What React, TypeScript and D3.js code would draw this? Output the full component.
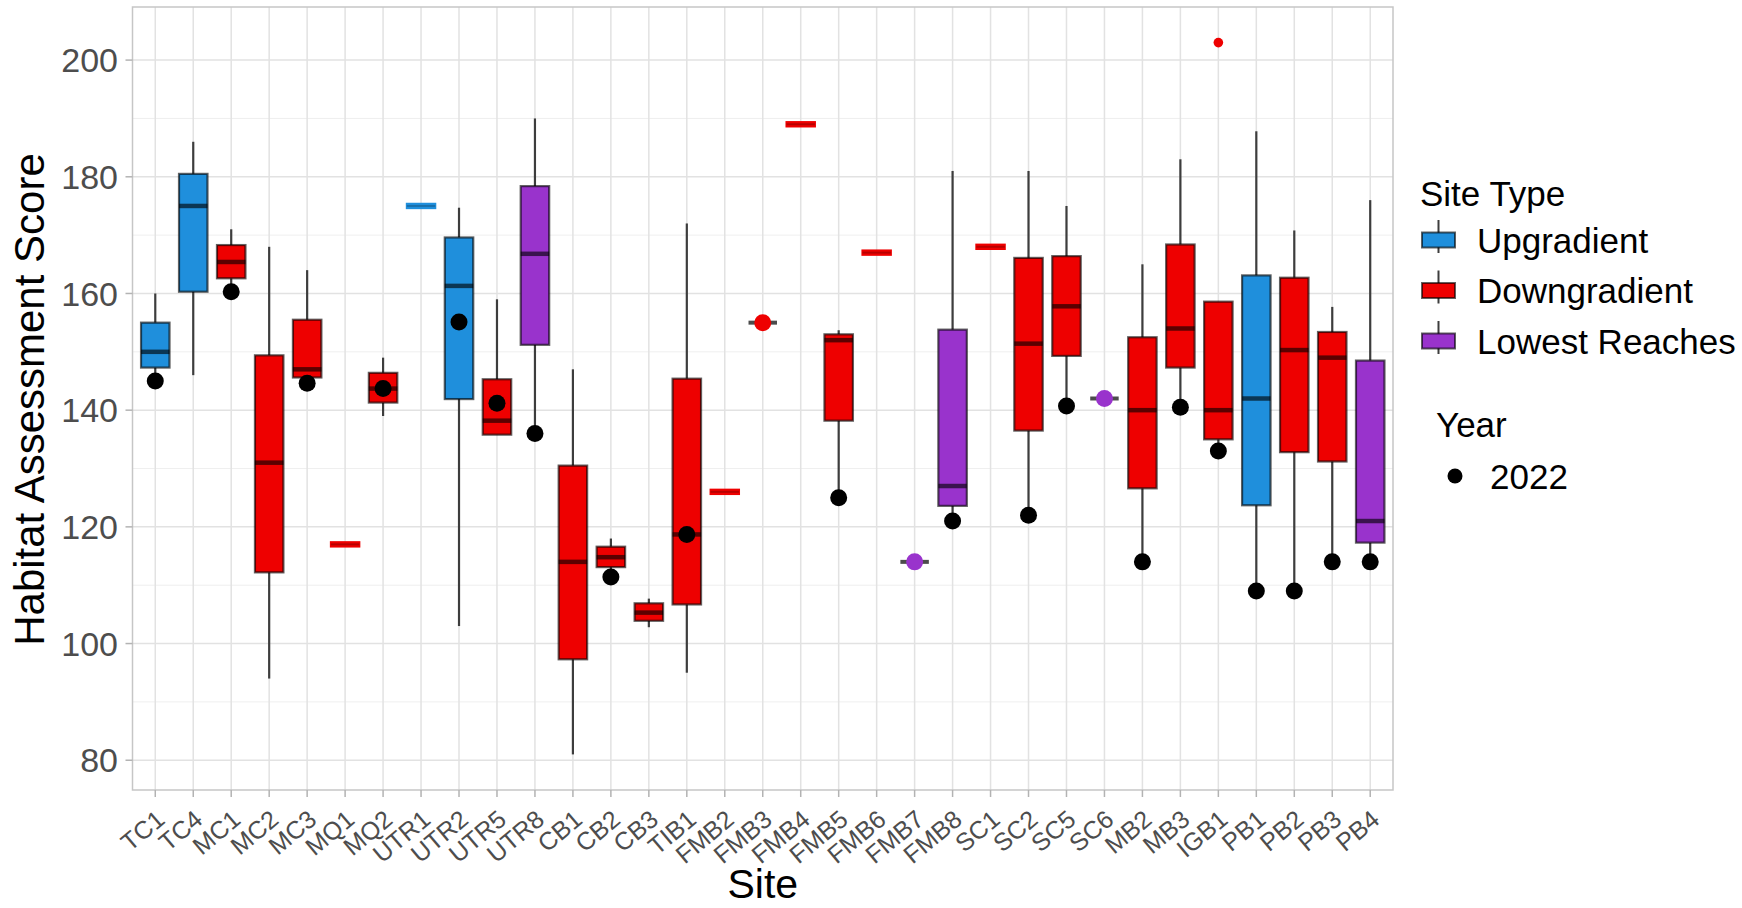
import React from "react";
import * as d3 from "d3";

// ---------- data ----------
const sites = ["TC1","TC4","MC1","MC2","MC3","MQ1","MQ2","UTR1","UTR2","UTR5","UTR8","CB1","CB2","CB3","TIB1","FMB2","FMB3","FMB4","FMB5","FMB6","FMB7","FMB8","SC1","SC2","SC5","SC6","MB2","MB3","IGB1","PB1","PB2","PB3","PB4"];
const siteType = ["Upgradient","Upgradient","Downgradient","Downgradient","Downgradient","Downgradient","Downgradient","Upgradient","Upgradient","Downgradient","Lowest Reaches","Downgradient","Downgradient","Downgradient","Downgradient","Downgradient","Downgradient","Downgradient","Downgradient","Downgradient","Lowest Reaches","Lowest Reaches","Downgradient","Downgradient","Downgradient","Lowest Reaches","Downgradient","Downgradient","Downgradient","Upgradient","Downgradient","Downgradient","Lowest Reaches"];
const whiskerLow = [145,146,160.5,94,145,117,139,175,103,135.8,136,81,111.5,102.8,95,126,155,189,125,167,114,121,168,122,141,142,114,140.5,133,109,109,114,114];
const q1 = [147.3,160.3,162.6,112.2,145.6,117,141.3,175,141.9,135.8,151.2,97.3,113.1,103.9,106.7,126,155,189,138.2,167,114,123.6,168,136.5,149.3,142,126.6,147.3,135,123.7,132.8,131.2,117.3];
const median = [150,175,165.4,131,147,117,143.7,175,161.3,138.2,166.8,114,114.8,105.3,118.7,126,155,189,152,167,114,127,168,151.4,157.8,142,140,154,140,142,150.3,149,121];
const q3 = [155,180.5,168.3,149.4,155.5,117,146.4,175,169.6,145.3,178.4,130.5,116.6,106.9,145.4,126,155,189,153,167,114,153.8,168,166.1,166.4,142,152.5,168.4,158.6,163.1,162.7,153.4,148.5];
const whiskerHigh = [160,186,171,168,164,117,149,175,174.7,159,190,147,118,107.7,172,126,155,189,153.7,167,114,181,168,181,175,142,165,183,158.6,187.8,170.8,157.7,176];
const year2022 = [145,null,160.3,null,144.6,null,143.7,null,155.1,141.2,136,null,111.4,null,118.7,null,null,null,125,null,null,121,null,122,140.7,null,114,140.5,133,109,109,114,114];
const singleSiteDots = [null,null,null,null,null,null,null,null,null,null,null,null,null,null,null,null,155,null,null,null,114,null,null,null,null,142,null,null,null,null,null,null,null];
const outlierSites = ["IGB1"];
const outlierValues = [203];

const typeNames = ["Upgradient","Downgradient","Lowest Reaches"];
const typeColors = ["#1f8fdc","#ee0000","#9933cc"];
const yTicks = [80,100,120,140,160,180,200];
const yMinor = [90,110,130,150,170,190];
const yDomain = [74.9, 209.1];

const FONT = "'Liberation Sans', Arial, Helvetica, sans-serif";

export default function App() {
  const W = 1742, H = 908;
  const left = 132.5, right = 1393, top = 7, bottom = 790;
  const x = d3.scalePoint<string>().domain(sites).range([left, right]).padding(0.6);
  const y = d3.scaleLinear().domain(yDomain).range([bottom, top]);
  const color = d3.scaleOrdinal<string, string>().domain(typeNames).range(typeColors);
  const step = x.step();
  const bw = step * 0.75;
  const outline = "rgba(0,0,0,0.62)";
  const whiskerCol = "#3d3d3d";

  return (
    <div style={{ position: "fixed", left: 0, top: 0 }}>
      <svg width={W} height={H} style={{ display: "block", background: "#fff" }} fontFamily={FONT}>
        {/* grid */}
        {yMinor.map((v) => (
          <line key={"mi" + v} x1={left} x2={right} y1={y(v)} y2={y(v)} stroke="#efefef" strokeWidth={1} />
        ))}
        {yTicks.map((v) => (
          <line key={"ma" + v} x1={left} x2={right} y1={y(v)} y2={y(v)} stroke="#e2e2e2" strokeWidth={1.5} />
        ))}
        {sites.map((s) => (
          <line key={"vx" + s} x1={x(s)} x2={x(s)} y1={top} y2={bottom} stroke="#e2e2e2" strokeWidth={1.5} />
        ))}

        {/* boxes */}
        {sites.map((s, i) => {
          const cx = x(s)!;
          const c = color(siteType[i]);
          const single = q1[i] === q3[i] && whiskerLow[i] === whiskerHigh[i];
          if (single) {
            const yy = y(median[i]);
            if (singleSiteDots[i] != null) {
              return (
                <g key={"b" + s}>
                  <line x1={cx - bw / 2} x2={cx + bw / 2} y1={yy} y2={yy} stroke="rgba(0,0,0,0.7)" strokeWidth={4} />
                  <circle cx={cx} cy={y(singleSiteDots[i]!)} r={8.5} fill={c} />
                </g>
              );
            }
            return (
              <g key={"b" + s}>
                <rect x={cx - bw / 2 - 1} y={yy - 3.2} width={bw + 2} height={6.4} fill={c} />
                <line x1={cx - bw / 2} x2={cx + bw / 2} y1={yy} y2={yy} stroke="rgba(0,0,0,0.22)" strokeWidth={2} />
              </g>
            );
          }
          return (
            <g key={"b" + s}>
              <line x1={cx} x2={cx} y1={y(whiskerHigh[i])} y2={y(q3[i])} stroke={whiskerCol} strokeWidth={2.2} />
              <line x1={cx} x2={cx} y1={y(q1[i])} y2={y(whiskerLow[i])} stroke={whiskerCol} strokeWidth={2.2} />
              <rect x={cx - bw / 2} y={y(q3[i])} width={bw} height={y(q1[i]) - y(q3[i])} fill={c} stroke={outline} strokeWidth={2.2} />
              <line x1={cx - bw / 2} x2={cx + bw / 2} y1={y(median[i])} y2={y(median[i])} stroke={outline} strokeWidth={4.5} />
            </g>
          );
        })}

        {/* outliers */}
        {outlierSites.map((s, k) => {
          const i = sites.indexOf(s);
          return <circle key={"o" + s} cx={x(s)} cy={y(outlierValues[k])} r={4.8} fill={color(siteType[i])} />;
        })}

        {/* 2022 points */}
        {sites.map((s, i) =>
          year2022[i] != null ? <circle key={"p" + s} cx={x(s)} cy={y(year2022[i]!)} r={8.5} fill="#000" /> : null
        )}

        {/* panel border */}
        <rect x={left} y={top} width={right - left} height={bottom - top} fill="none" stroke="#c6c6c6" strokeWidth={1.5} />

        {/* y axis */}
        {yTicks.map((v) => (
          <g key={"yt" + v}>
            <line x1={left - 7} x2={left} y1={y(v)} y2={y(v)} stroke="#b3b3b3" strokeWidth={1.5} />
            <text x={118} y={y(v)} dy="0.36em" textAnchor="end" fontSize={34} fill="#4d4d4d">{v}</text>
          </g>
        ))}
        <text transform={`translate(44,${(top + bottom) / 2 + 1}) rotate(-90)`} textAnchor="middle" fontSize={42} fill="#000">Habitat Assessment Score</text>

        {/* x axis */}
        {sites.map((s) => {
          const cx = x(s)!;
          return (
            <g key={"xt" + s}>
              <line x1={cx} x2={cx} y1={bottom} y2={bottom + 7} stroke="#b3b3b3" strokeWidth={1.5} />
              <text transform={`translate(${cx + 11},${822}) rotate(-40)`} textAnchor="end" fontSize={25} fill="#4d4d4d">{s}</text>
            </g>
          );
        })}
        <text x={(left + right) / 2} y={898} textAnchor="middle" fontSize={41} fill="#000">Site</text>

        {/* legend */}
        <text x={1420} y={206} fontSize={35} fill="#000">Site Type</text>
        {typeNames.map((t, k) => {
          const cy = 240 + k * 50.5;
          return (
            <g key={"lg" + t}>
              <line x1={1438.5} x2={1438.5} y1={cy - 20} y2={cy + 13} stroke={whiskerCol} strokeWidth={2} />
              <rect x={1422} y={cy - 7.5} width={33} height={15} fill={color(t)} stroke={outline} strokeWidth={2} />
              <text x={1477} y={cy} dy="0.36em" fontSize={35} fill="#000">{t}</text>
            </g>
          );
        })}
        <text x={1436} y={437} fontSize={35} fill="#000">Year</text>
        <circle cx={1455} cy={476} r={7.5} fill="#000" />
        <text x={1490} y={476} dy="0.36em" fontSize={35} fill="#000">2022</text>
      </svg>
    </div>
  );
}
